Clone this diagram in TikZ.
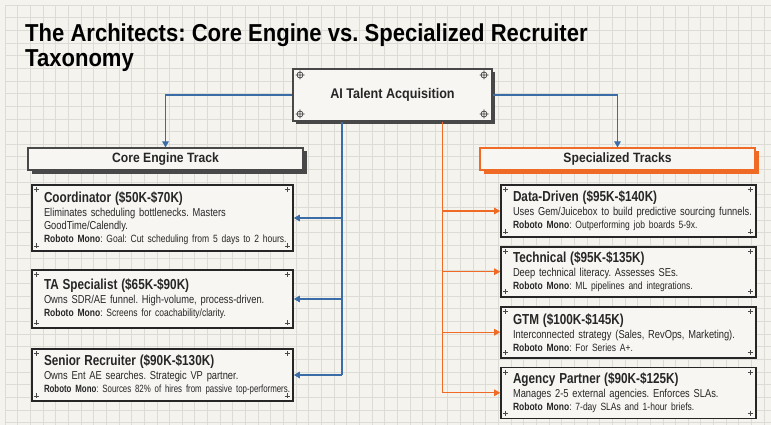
\documentclass[tikz,border=0pt]{standalone}
\usepackage{fontspec}
\setmainfont{Liberation Sans}
\newfontfamily\condfont[FakeStretch=0.81]{Liberation Sans}
\newfontfamily\narrowfont[FakeStretch=0.75]{Liberation Sans}
\newfontfamily\headfont[FakeStretch=0.9]{Liberation Sans}
\usetikzlibrary{arrows.meta, positioning, calc, shadows}
\definecolor{paper}{HTML}{F4F3EE}
\definecolor{cardfill}{HTML}{F7F6F2}
\definecolor{gridln}{HTML}{DCDBD6}
\definecolor{coreblue}{HTML}{3A6CA8}
\definecolor{specorange}{HTML}{EE6A25}
\definecolor{inkdark}{HTML}{262626}
\definecolor{shadowgray}{HTML}{484848}
\frenchspacing

\begin{document}
\begin{tikzpicture}[x=1pt, y=-1pt,
  >={Triangle[length=6pt, width=6.5pt]},
  card/.style={draw=inkdark, line width=1.6pt, fill=cardfill, inner xsep=12pt,
    inner ysep=2pt, align=left, text=inkdark,
    font=\condfont\fontsize{11.5}{13}\selectfont},
  hdr/.style={line width=1.2pt, fill=cardfill, minimum width=275pt,
    minimum height=22pt, font=\headfont\bfseries\fontsize{13.5}{13.5}\selectfont,
    text=inkdark},
  bluearr/.style={->, line width=1.2pt, coreblue},
  orangearr/.style={->, line width=1.2pt, specorange},
  plusmark/.style={line width=0.6pt, shadowgray},
]

% Background paper and grid
\useasboundingbox (0,0) rectangle (771,425);
\fill[paper] (0,0) rectangle (771,425);
\begin{scope}[shift={(5,5)}]
  \draw[gridln, line width=0.6pt, step=12.65pt] (0,0) grid (766,420);
\end{scope}

% Title
\node[anchor=north west, inner sep=0, align=left, text=black,
  font=\headfont\bfseries\fontsize{24.5}{25}\selectfont] (title) at (25,23.3)
  {The Architects: Core Engine vs. Specialized Recruiter\\Taxonomy};

% =============================================
% Root
% =============================================
\node[draw=shadowgray, line width=2pt, fill=cardfill, minimum width=199pt,
  minimum height=52pt, font=\headfont\bfseries\fontsize{14}{14}\selectfont,
  text=inkdark, drop shadow={shadow xshift=3pt, shadow yshift=-3pt,
  fill=shadowgray, opacity=1}] (ai) at (392.5,95) {AI Talent Acquisition};

% crosshairs
\foreach \a/\dx/\dy in {north west/8/7, north east/-9/7, south west/8/-8, south east/-9/-8}
  \draw[plusmark, line width=0.7pt] ($(ai.\a)+(\dx,\dy)$) circle (3)
    +(-4.5,0) -- +(4.5,0) +(0,-4.5) -- +(0,4.5);

% =============================================
% Track headers
% =============================================
\node[hdr, draw=shadowgray, drop shadow={shadow xshift=3.5pt,
  shadow yshift=-3.5pt, fill=shadowgray, opacity=1}] (core) at (165.5,159)
  {Core Engine Track};
\node[hdr, draw=specorange, drop shadow={shadow xshift=3.5pt,
  shadow yshift=-3.5pt, fill=specorange, opacity=1}] (spec) at (617.5,159)
  {Specialized Tracks};

\draw[bluearr] (ai.west) -| (core.north);
\draw[bluearr] (ai.east) -| (spec.north);

% =============================================
% Core Engine cards
% =============================================
\node[card, text width=237pt, minimum height=66pt] (coord) at (162.5,218)
  {{\fontsize{14.5}{14}\selectfont\bfseries Coordinator (\$50K-\$70K)}\\[1pt]
   Eliminates scheduling bottlenecks. Masters\\
   GoodTime/Calendly.\\
   \mbox{\fontsize{10.5}{12}\selectfont\textbf{Roboto Mono}: Goal: Cut scheduling from 5 days to 2 hours.}};

\node[card, text width=237pt, minimum height=58pt] (tasp) at (162.5,299)
  {{\fontsize{14.5}{14}\selectfont\bfseries TA Specialist (\$65K-\$90K)}\\[1pt]
   Owns SDR/AE funnel. High-volume, process-driven.\\
   \mbox{\fontsize{10.5}{12}\selectfont\textbf{Roboto Mono}: Screens for coachability/clarity.}};

\node[card, text width=237pt, minimum height=52pt] (senior) at (162.5,375)
  {{\fontsize{14.5}{14}\selectfont\bfseries Senior Recruiter (\$90K-\$130K)}\\[1pt]
   Owns Ent AE searches. Strategic VP partner.\\
   \mbox{\narrowfont\fontsize{10.5}{12}\selectfont\textbf{Roboto Mono}: Sources 82\% of hires from passive top-performers.}};

% =============================================
% Specialized cards
% =============================================
\node[card, text width=231pt, minimum height=52pt] (data) at (628.5,211)
  {{\fontsize{14.5}{14}\selectfont\bfseries Data-Driven (\$95K-\$140K)}\\[1pt]
   \mbox{Uses Gem/Juicebox to build predictive sourcing funnels.}\\
   \mbox{\fontsize{10.5}{12}\selectfont\textbf{Roboto Mono}: Outperforming job boards 5-9x.}};

\node[card, text width=231pt, minimum height=50pt] (tech) at (628.5,271.7)
  {{\fontsize{14.5}{14}\selectfont\bfseries Technical (\$95K-\$135K)}\\[1pt]
   Deep technical literacy. Assesses SEs.\\
   \mbox{\fontsize{10.5}{12}\selectfont\textbf{Roboto Mono}: ML pipelines and integrations.}};

\node[card, text width=231pt, minimum height=51pt] (gtm) at (628.5,332.2)
  {{\fontsize{14.5}{14}\selectfont\bfseries GTM (\$100K-\$145K)}\\[1pt]
   \mbox{Interconnected strategy (Sales, RevOps, Marketing).}\\
   \mbox{\fontsize{10.5}{12}\selectfont\textbf{Roboto Mono}: For Series A+.}};

\node[card, text width=231pt, minimum height=51pt] (agency) at (628.5,392.8)
  {{\fontsize{14.5}{14}\selectfont\bfseries Agency Partner (\$90K-\$125K)}\\[1pt]
   Manages 2-5 external agencies. Enforces SLAs.\\
   \mbox{\fontsize{10.5}{12}\selectfont\textbf{Roboto Mono}: 7-day SLAs and 1-hour briefs.}};

% corner marks
\foreach \c in {coord, tasp, senior, data, tech, gtm, agency}{
  \foreach \a/\dx/\dy in {north west/5.5/5.5, north east/-6.5/5.5,
      south west/5.5/-6, south east/-6.5/-6}
    \draw[plusmark] ($(\c.\a)+(\dx,\dy)$) +(-2.5,0) -- +(2.5,0) +(0,-2.5) -- +(0,2.5);
}

% =============================================
% Trunks
% =============================================
\coordinate (btrunk) at (342,0);
\coordinate (otrunk) at (442.3,0);

\draw[coreblue, line width=1.2pt] (btrunk |- ai.south) -- (btrunk |- senior.east);
\foreach \c in {coord, tasp, senior}
  \draw[bluearr] (btrunk |- \c.east) -- (\c.east);

\draw[specorange, line width=1.2pt] (otrunk |- ai.south) -- (otrunk |- agency.west);
\foreach \c in {data, tech, gtm, agency}
  \draw[orangearr] (otrunk |- \c.west) -- (\c.west);

\end{tikzpicture}
\end{document}
